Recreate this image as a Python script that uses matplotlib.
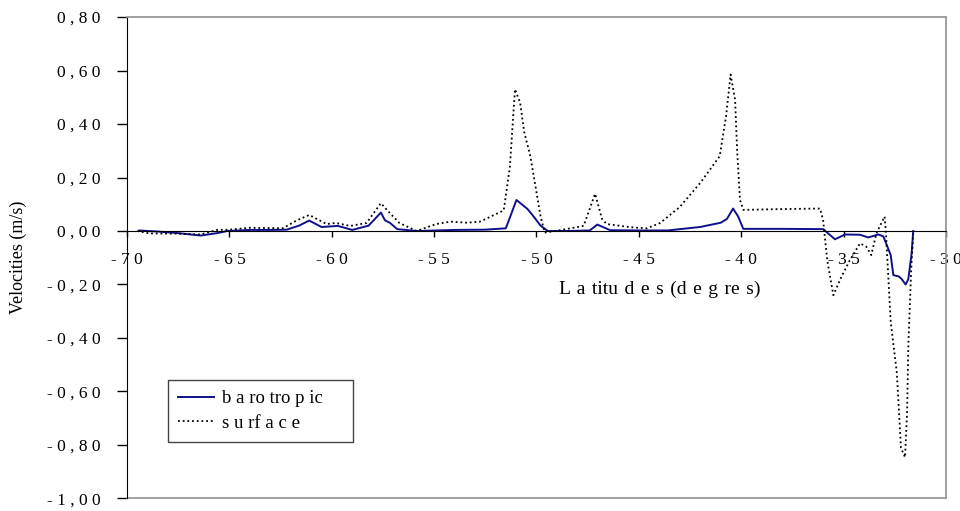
import matplotlib
matplotlib.use("Agg")
import matplotlib.pyplot as plt
from matplotlib.ticker import FixedLocator, FuncFormatter

# barotropic velocity (m/s) vs latitude
lat_baro = [-69.4, -68.5, -67.5, -66.4, -65.6, -65.1, -64.0, -63.0, -62.2, -61.6,
            -61.1, -60.5, -59.7, -59.0, -58.2, -57.6, -57.4, -57.15, -56.8, -55.85,
            -54.0, -52.5, -51.5, -51.3, -50.98, -50.45, -50.2, -49.8, -49.45, -48.5,
            -47.4, -47.03, -46.4, -45.0, -43.6, -42.0, -41.0, -40.7, -40.4, -40.15,
            -39.9, -38.0, -36.0, -35.42, -34.93, -34.2, -33.8, -33.3, -33.06, -32.7,
            -32.57, -32.3, -32.16, -31.97, -31.84, -31.68, -31.6]
vel_baro = [0.002, -0.002, -0.008, -0.017, -0.008, 0.0, 0.004, 0.004, 0.005, 0.02,
            0.039, 0.015, 0.019, 0.004, 0.02, 0.069, 0.04, 0.03, 0.007, 0.0,
            0.004, 0.005, 0.01, 0.05, 0.116, 0.083, 0.06, 0.02, 0.0, 0.0,
            0.002, 0.024, 0.003, 0.002, 0.002, 0.015, 0.031, 0.045, 0.084, 0.054,
            0.008, 0.008, 0.007, -0.031, -0.013, -0.014, -0.024, -0.013, -0.02, -0.09,
            -0.165, -0.17, -0.18, -0.2, -0.18, -0.085, 0.0]

# surface velocity (m/s) vs latitude
lat_surf = [-69.5, -68.9, -67.5, -66.4, -65.6, -65.0, -64.0, -62.4, -61.7, -61.1,
            -60.25, -59.8, -59.1, -58.3, -57.6, -57.15, -56.7, -55.85, -54.9, -54.2,
            -53.4, -52.76, -51.6, -51.3, -51.05, -50.8, -50.6, -50.3, -50.1, -49.8,
            -49.6, -48.85, -47.7, -47.46, -47.14, -46.8, -46.57, -45.4, -44.6, -43.96,
            -43.0, -42.0, -41.05, -40.74, -40.52, -40.3, -40.2, -40.06, -39.9, -38.0,
            -36.15, -36.0, -35.8, -35.5, -35.1, -34.7, -34.2, -33.9, -33.65, -33.4,
            -33.0, -32.93, -32.7, -32.4, -32.2, -32.0, -31.9, -31.84, -31.7, -31.6]
vel_surf = [0.0, -0.009, -0.01, -0.013, 0.004, 0.005, 0.012, 0.01, 0.04, 0.06,
            0.026, 0.03, 0.019, 0.03, 0.104, 0.066, 0.03, 0.0, 0.026, 0.035,
            0.031, 0.035, 0.077, 0.24, 0.53, 0.48, 0.37, 0.28, 0.19, 0.054,
            -0.006, 0.003, 0.019, 0.07, 0.139, 0.045, 0.026, 0.014, 0.01, 0.03,
            0.09, 0.18, 0.28, 0.43, 0.585, 0.49, 0.30, 0.116, 0.079, 0.082,
            0.084, 0.04, -0.11, -0.24, -0.17, -0.11, -0.046, -0.058, -0.09, -0.009,
            0.054, -0.01, -0.34, -0.53, -0.81, -0.846, -0.68, -0.43, -0.146, -0.01]

x_ticks = [-70, -65, -60, -55, -50, -45, -40, -35, -30]
y_ticks = [-1.0, -0.8, -0.6, -0.4, -0.2, 0.0, 0.2, 0.4, 0.6, 0.8]

SERIF = ["Liberation Serif", "DejaVu Serif"]


def spaced(s):
    # l'export Excel d'origine espace les caracteres
    return " ".join(s)


fig = plt.figure(figsize=(9.6, 5.11), dpi=100)
ax = fig.add_axes([0.1323, 0.0245, 0.8531, 0.9422])

ax.plot(lat_baro, vel_baro, color="#10108c", lw=1.4, label="b a ro tro p ic")
ax.plot(lat_surf, vel_surf, color="black", lw=1.3, ls=(0, (1, 1.6)), label="s u rf a c e")

ax.set_xlim(-70, -30)
ax.set_ylim(-1.0, 0.8)
ax.xaxis.set_major_locator(FixedLocator(x_ticks))
ax.yaxis.set_major_locator(FixedLocator(y_ticks))
ax.xaxis.set_major_formatter(FuncFormatter(lambda v, p: spaced(f"{v:.0f}")))
ax.yaxis.set_major_formatter(FuncFormatter(lambda v, p: spaced(f"{v:.2f}".replace(".", ","))))

ax.spines["bottom"].set_position(("data", 0))
for side in ("top", "right"):
    ax.spines[side].set_color("#9a9a9a")
    ax.spines[side].set_linewidth(1.3)
ax.plot([0, 1], [0, 0], transform=ax.transAxes, color="#9a9a9a", lw=1.3, clip_on=False)
ax.spines["left"].set_color("black")
ax.spines["bottom"].set_color("black")

ax.tick_params(axis="y", direction="out", length=7, width=1, pad=12, labelsize=12.5)
ax.tick_params(axis="x", direction="out", length=4, width=1, pad=11, labelsize=12.5)
for lbl in ax.get_xticklabels() + ax.get_yticklabels():
    lbl.set_fontfamily(SERIF)

xlab = "L a titu d e s (d e g re s)".replace(" ", " \u200a")
ax.set_xlabel(xlab, fontsize=14, family=SERIF)
ax.xaxis.set_label_coords(0.65, 0.453)
ax.set_ylabel("Velocities (m/s)", fontsize=13, family=SERIF)
ax.yaxis.set_label_coords(-0.122, 0.5)

leg = ax.legend(loc="lower left", bbox_to_anchor=(0.05, 0.117, 0.226, 0.12), mode="expand",
                borderaxespad=0, fancybox=False, framealpha=1, edgecolor="#444444",
                handlelength=1.9, handletextpad=0.45,
                prop={"family": SERIF, "size": 13.5}, borderpad=0.55, labelspacing=0.4)
leg.get_frame().set_linewidth(1.0)

fig.savefig("out.png", dpi=100)
